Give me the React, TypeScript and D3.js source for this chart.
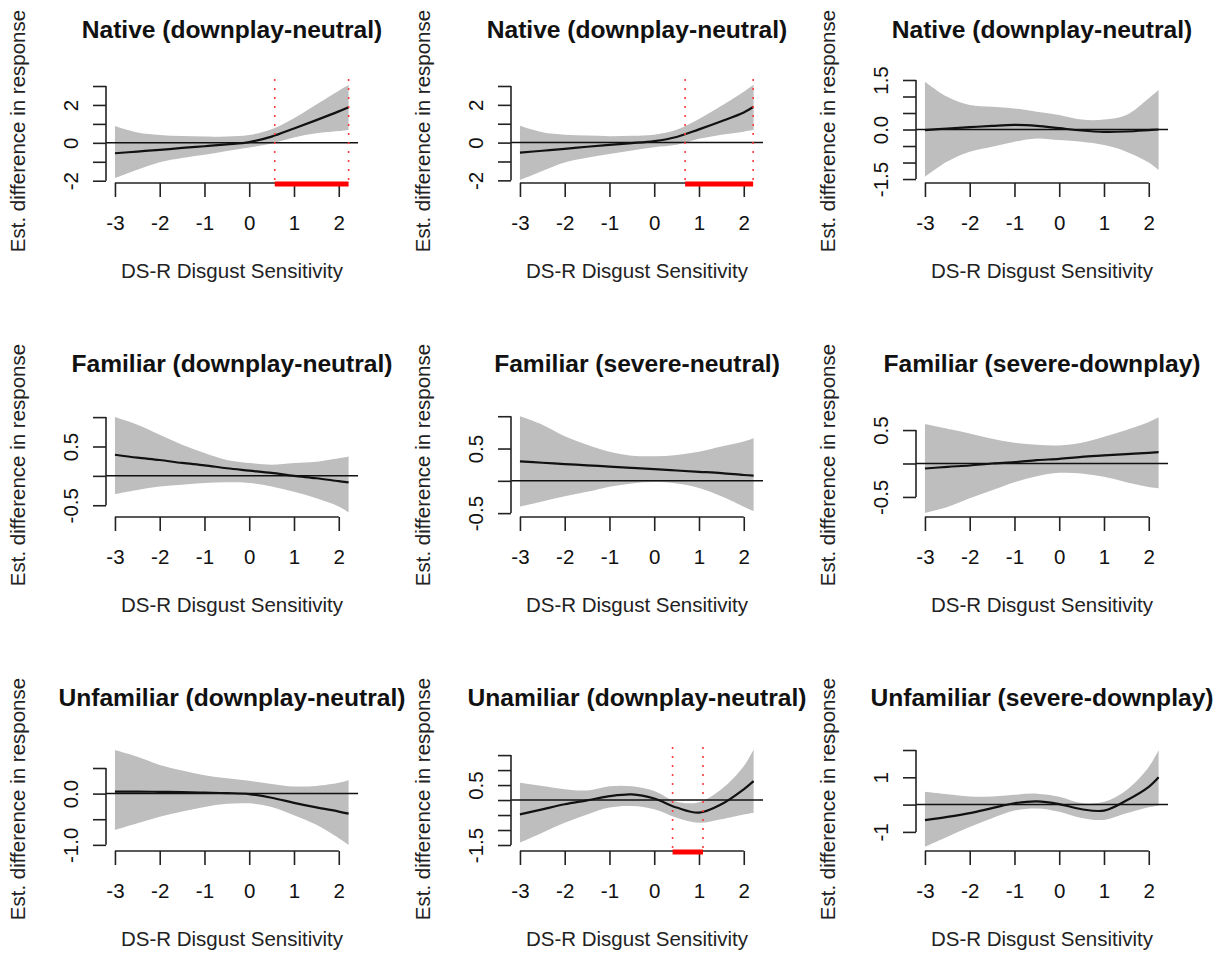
import React, { useEffect, useRef } from "react";
import * as d3 from "d3";

const xs = [-3, -2.5, -2, -1.5, -1, -0.5, 0, 0.5, 1, 1.5, 2, 2.22];
const xTicks = [-3, -2, -1, 0, 1, 2];

const titles = [
  "Native (downplay-neutral)",
  "Native (downplay-neutral)",
  "Native (downplay-neutral)",
  "Familiar (downplay-neutral)",
  "Familiar (severe-neutral)",
  "Familiar (severe-downplay)",
  "Unfamiliar (downplay-neutral)",
  "Unamiliar (downplay-neutral)",
  "Unfamiliar (severe-downplay)",
];

// estimate / lower / upper for each panel
const nativeA_est = [-0.55, -0.46, -0.37, -0.27, -0.18, -0.08, 0.04, 0.33, 0.76, 1.2, 1.66, 1.88];
const nativeA_lo = [-1.86, -1.42, -1.02, -0.8, -0.63, -0.43, -0.25, -0.03, 0.28, 0.5, 0.62, 0.68];
const nativeA_hi = [0.89, 0.55, 0.42, 0.36, 0.33, 0.34, 0.42, 0.72, 1.3, 2.02, 2.75, 3.05];

const nativeB_est = [-0.53, -0.43, -0.33, -0.22, -0.12, -0.03, 0.08, 0.3, 0.7, 1.13, 1.6, 1.9];
const nativeB_lo = [-1.98, -1.5, -1.05, -0.8, -0.6, -0.42, -0.25, -0.12, 0.2, 0.42, 0.58, 0.68];
const nativeB_hi = [0.89, 0.55, 0.42, 0.37, 0.34, 0.36, 0.42, 0.68, 1.25, 1.95, 2.7, 3.07];

const nativeC_est = [-0.02, 0.03, 0.07, 0.11, 0.14, 0.11, 0.04, -0.03, -0.07, -0.06, -0.02, 0.0];
const nativeC_lo = [-1.43, -0.97, -0.67, -0.52, -0.37, -0.27, -0.32, -0.37, -0.47, -0.67, -1.0, -1.23];
const nativeC_hi = [1.45, 0.99, 0.74, 0.69, 0.64, 0.54, 0.44, 0.3, 0.3, 0.44, 0.95, 1.2];

const familiarA_est = [0.36, 0.31, 0.27, 0.22, 0.18, 0.13, 0.09, 0.05, 0.0, -0.04, -0.09, -0.11];
const familiarA_lo = [-0.31, -0.24, -0.18, -0.15, -0.12, -0.11, -0.12, -0.18, -0.27, -0.38, -0.52, -0.62];
const familiarA_hi = [1.0, 0.87, 0.7, 0.53, 0.39, 0.27, 0.22, 0.19, 0.22, 0.24, 0.3, 0.33];

const familiarB_est = [0.3, 0.28, 0.26, 0.24, 0.22, 0.2, 0.18, 0.16, 0.14, 0.12, 0.09, 0.08];
const familiarB_lo = [-0.4, -0.32, -0.24, -0.17, -0.09, -0.04, -0.02, -0.04, -0.11, -0.24, -0.4, -0.47];
const familiarB_hi = [1.0, 0.87, 0.69, 0.56, 0.45, 0.39, 0.38, 0.4, 0.45, 0.53, 0.61, 0.66];

const familiarC_est = [-0.075, -0.05, -0.03, 0.0, 0.02, 0.05, 0.07, 0.1, 0.12, 0.14, 0.16, 0.17];
const familiarC_lo = [-0.74, -0.65, -0.52, -0.4, -0.28, -0.19, -0.14, -0.15, -0.2, -0.28, -0.35, -0.37];
const familiarC_hi = [0.59, 0.52, 0.45, 0.37, 0.31, 0.28, 0.27, 0.31, 0.4, 0.5, 0.62, 0.69];

const unfamA_est = [0.04, 0.04, 0.035, 0.03, 0.02, 0.01, -0.01, -0.08, -0.18, -0.27, -0.35, -0.39];
const unfamA_lo = [-0.71, -0.58, -0.45, -0.35, -0.26, -0.2, -0.19, -0.26, -0.42, -0.61, -0.87, -1.0];
const unfamA_hi = [0.85, 0.72, 0.56, 0.45, 0.36, 0.3, 0.25, 0.19, 0.14, 0.15, 0.21, 0.26];

const unfamB_est = [-0.48, -0.31, -0.14, -0.01, 0.13, 0.19, 0.05, -0.25, -0.42, -0.14, 0.36, 0.63];
const unfamB_lo = [-1.42, -1.09, -0.76, -0.48, -0.25, -0.2, -0.31, -0.59, -0.76, -0.64, -0.48, -0.42];
const unfamB_hi = [0.58, 0.47, 0.36, 0.32, 0.46, 0.46, 0.3, -0.06, -0.07, 0.36, 1.13, 1.69];

const unfamC_est = [-0.57, -0.45, -0.31, -0.13, 0.05, 0.12, 0.02, -0.17, -0.22, 0.15, 0.65, 1.0];
const unfamC_lo = [-1.55, -1.18, -0.82, -0.5, -0.22, -0.14, -0.26, -0.49, -0.56, -0.32, -0.1, -0.03];
const unfamC_hi = [0.47, 0.38, 0.3, 0.3, 0.36, 0.4, 0.29, 0.06, 0.1, 0.53, 1.38, 1.99];

// y limits, ticks and labelled ticks
const yDomains = [
  [-2.12, 3.37], [-2.14, 3.37], [-1.62, 1.53],
  [-0.7, 1.07], [-0.56, 1.05], [-0.8, 0.755],
  [-1.12, 0.91], [-1.7, 1.77], [-1.7, 2.11],
];
const yTickSets = [
  [-2, -1, 0, 1, 2, 3], [-2, -1, 0, 1, 2, 3], [-1.5, -1, -0.5, 0, 0.5, 1, 1.5],
  [-0.5, 0, 0.5, 1], [-0.5, 0, 0.5, 1], [-0.5, 0, 0.5],
  [-1, -0.5, 0, 0.5], [-1.5, -1, -0.5, 0, 0.5, 1, 1.5], [-1, 0, 1, 2],
];
const yLabelSets = [
  [-2, 0, 2], [-2, 0, 2], [-1.5, 0, 1.5],
  [-0.5, 0.5], [-0.5, 0.5], [-0.5, 0.5],
  [-1, 0], [-1.5, 0.5], [-1, 1],
];
const yLabelDigits = [0, 0, 1, 1, 1, 1, 1, 1, 0];

// regions of significance (Johnson-Neyman)
const sigRegions = [[[0.57, 2.22]], [[0.69, 2.21]], [], [], [], [], [], [[0.41, 1.09]], []];

const estimates = [nativeA_est, nativeB_est, nativeC_est, familiarA_est, familiarB_est, familiarC_est, unfamA_est, unfamB_est, unfamC_est];
const lowers = [nativeA_lo, nativeB_lo, nativeC_lo, familiarA_lo, familiarB_lo, familiarC_lo, unfamA_lo, unfamB_lo, unfamC_lo];
const uppers = [nativeA_hi, nativeB_hi, nativeC_hi, familiarA_hi, familiarB_hi, familiarC_hi, unfamA_hi, unfamB_hi, unfamC_hi];

const W = 1224;
const H = 955;
const colStep = 405;
const rowStep = 334;
const box = { left: 106, right: 358, top: 79, bottom: 183 };
const font = '"Liberation Sans", Arial, Helvetica, sans-serif';

const App = () => {
  const ref = useRef<SVGSVGElement>(null);

  useEffect(() => {
    const svg = d3.select(ref.current);
    svg.selectAll("*").remove();

    titles.forEach((title, i) => {
      const col = i % 3;
      const row = Math.floor(i / 3);
      const g = svg.append("g").attr("transform", `translate(${col * colStep},${row * rowStep})`);

      const x = d3.scaleLinear().domain([-3.2, 2.43]).range([box.left, box.right]);
      const y = d3.scaleLinear().domain(yDomains[i]).range([box.bottom, box.top]);

      const pts = xs.map((xv, k) => ({ x: xv, est: estimates[i][k], lo: lowers[i][k], hi: uppers[i][k] }));

      // confidence band
      const area = d3
        .area<any>()
        .x((d) => x(d.x))
        .y0((d) => y(d.lo))
        .y1((d) => y(d.hi))
        .curve(d3.curveCatmullRom.alpha(0.5));
      g.append("path").datum(pts).attr("d", area).attr("fill", "#bebebe");

      // zero line
      g.append("line")
        .attr("x1", box.left)
        .attr("x2", box.right)
        .attr("y1", y(0))
        .attr("y2", y(0))
        .attr("stroke", "#111")
        .attr("stroke-width", 1.5);

      // estimated difference
      const line = d3
        .line<any>()
        .x((d) => x(d.x))
        .y((d) => y(d.est))
        .curve(d3.curveCatmullRom.alpha(0.5));
      g.append("path")
        .datum(pts)
        .attr("d", line)
        .attr("fill", "none")
        .attr("stroke", "#111")
        .attr("stroke-width", 2.2);

      // x axis (R style: line spans first to last tick)
      const xAxis = g
        .append("g")
        .attr("transform", `translate(0,${box.bottom})`)
        .call(d3.axisBottom(x).tickValues(xTicks).tickSize(14).tickSizeOuter(0).tickFormat((d: any) => String(d)));
      xAxis.select(".domain").remove();
      xAxis.selectAll("line").attr("stroke", "#222").attr("stroke-width", 1.6);
      xAxis.append("line")
        .attr("x1", x(xTicks[0]))
        .attr("x2", x(xTicks[xTicks.length - 1]))
        .attr("stroke", "#222")
        .attr("stroke-width", 1.6);
      xAxis.selectAll("text")
        .attr("y", 47)
        .attr("dy", 0)
        .attr("fill", "#111")
        .style("font-size", "20.5px")
        .style("font-family", font);

      // y axis with rotated labels
      const yt = yTickSets[i];
      const labels = yLabelSets[i];
      const yAxis = g
        .append("g")
        .attr("transform", `translate(${box.left},0)`)
        .call(
          d3
            .axisLeft(y)
            .tickValues(yt)
            .tickSize(13)
            .tickSizeOuter(0)
            .tickFormat((d: any) => (labels.includes(d) ? d.toFixed(yLabelDigits[i]) : ""))
        );
      yAxis.select(".domain").remove();
      yAxis.selectAll("line").attr("stroke", "#222").attr("stroke-width", 1.6);
      yAxis.append("line")
        .attr("y1", y(yt[0]))
        .attr("y2", y(yt[yt.length - 1]))
        .attr("stroke", "#222")
        .attr("stroke-width", 1.6);
      yAxis.selectAll("text")
        .attr("transform", "rotate(-90)")
        .attr("x", 0)
        .attr("y", -28)
        .attr("dy", 0)
        .attr("text-anchor", "middle")
        .attr("fill", "#111")
        .style("font-size", "20.5px")
        .style("font-family", font);

      // significance region: dotted bounds + red bar on the axis
      sigRegions[i].forEach(([a, b]) => {
        [a, b].forEach((v) => {
          g.append("line")
            .attr("x1", x(v))
            .attr("x2", x(v))
            .attr("y1", box.top)
            .attr("y2", box.bottom)
            .attr("stroke", "#ff3b3b")
            .attr("stroke-width", 1.6)
            .attr("stroke-dasharray", "2,7");
        });
        g.append("line")
          .attr("x1", x(a))
          .attr("x2", x(b))
          .attr("y1", box.bottom + 1)
          .attr("y2", box.bottom + 1)
          .attr("stroke", "#ff0000")
          .attr("stroke-width", 5);
      });

      // title
      g.append("text")
        .attr("x", (box.left + box.right) / 2)
        .attr("y", 37.5)
        .attr("text-anchor", "middle")
        .style("font-family", font)
        .style("font-size", "24.6px")
        .style("font-weight", "bold")
        .attr("fill", "#111")
        .text(title);

      // axis titles
      g.append("text")
        .attr("x", (box.left + box.right) / 2)
        .attr("y", box.bottom + 95)
        .attr("text-anchor", "middle")
        .style("font-family", font)
        .style("font-size", "20.5px")
        .attr("fill", "#222")
        .text("DS-R Disgust Sensitivity");

      g.append("text")
        .attr("transform", `translate(25,${(box.top + box.bottom) / 2}) rotate(-90)`)
        .attr("text-anchor", "middle")
        .style("font-family", font)
        .style("font-size", "20.5px")
        .attr("fill", "#222")
        .text("Est. difference in response");
    });
  }, []);

  return (
    <div style={{ position: "absolute", left: 0, top: 0, background: "#fff" }}>
      <svg ref={ref} width={W} height={H} style={{ display: "block" }}></svg>
    </div>
  );
};

export default App;
